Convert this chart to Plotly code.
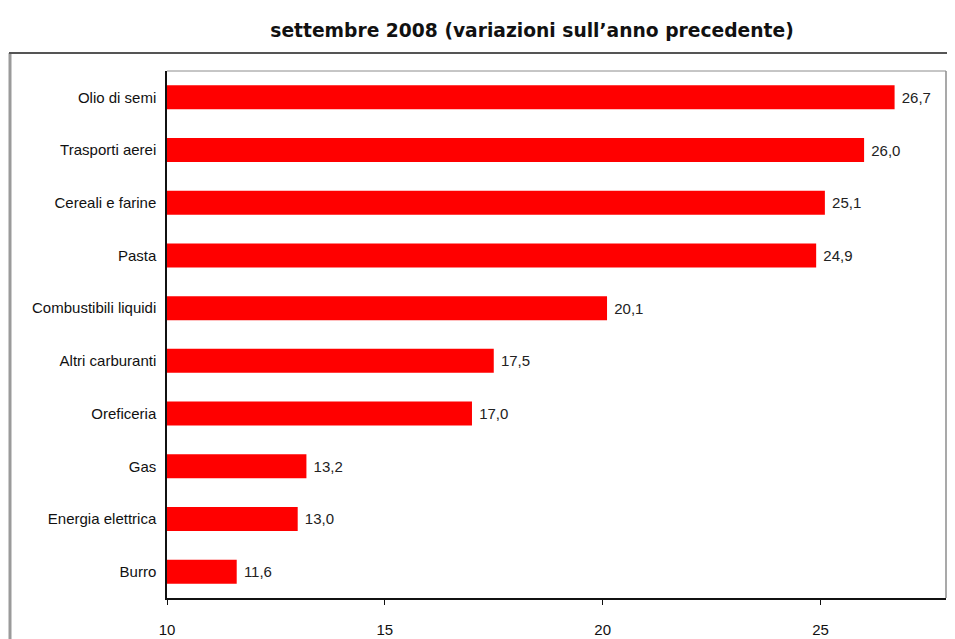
import plotly.graph_objects as go

categories = ["Olio di semi", "Trasporti aerei", "Cereali e farine", "Pasta",
              "Combustibili liquidi", "Altri carburanti", "Oreficeria", "Gas",
              "Energia elettrica", "Burro"]
values = [26.7, 26.0, 25.1, 24.9, 20.1, 17.5, 17.0, 13.2, 13.0, 11.6]
x_ticks = [10, 15, 20, 25]
axis_min, axis_max = 10, 27.88
title_text = "settembre 2008 (variazioni sull’anno precedente)"

# the page has an 8px body margin; work in figure coordinates (screen - 8)
OFF = 8
W, H = 955 - OFF, 639 - OFF
L, T = 167 - OFF, 71 - OFF
R = W - (946 - OFF)
B = H - (598 - OFF)

fig = go.Figure(go.Bar(
    y=categories,
    x=[v - axis_min for v in values],
    base=axis_min,
    customdata=values,
    orientation="h",
    marker=dict(color="#ff0000", line=dict(width=0)),
    texttemplate=" %{customdata:.1f}",
    textposition="outside",
    textfont=dict(family="Liberation Sans, Arial", size=15, color="#222222"),
    cliponaxis=False,
))

pw = W - L - R
ph = H - T - B

def px_x(p):
    return (p - OFF - L) / pw

def px_y(p):
    return (H - B - (p - OFF)) / ph

shapes = [
    # outer chart frame (left and top)
    dict(type="line", xref="paper", yref="paper", x0=px_x(10), x1=px_x(10),
         y0=px_y(53), y1=px_y(660), line=dict(color="#9a9a9a", width=3)),
    dict(type="line", xref="paper", yref="paper", x0=px_x(9), x1=px_x(960),
         y0=px_y(53), y1=px_y(53), line=dict(color="#555555", width=2)),
    # inner plot top & right borders
    dict(type="line", xref="paper", yref="paper", x0=0, x1=1, y0=1, y1=1,
         line=dict(color="#8c8c8c", width=1)),
    dict(type="line", xref="paper", yref="paper", x0=1, x1=1, y0=0, y1=1,
         line=dict(color="#8c8c8c", width=1.5)),
]

fig.update_layout(
    width=W, height=H,
    margin=dict(l=L, r=R, t=T, b=B, pad=0, autoexpand=False),
    paper_bgcolor="white",
    plot_bgcolor="white",
    separators=",.",
    showlegend=False,
    bargap=0.545,
    title=dict(text="<b>" + title_text + "</b>", x=(532 - OFF) / W, xanchor="center",
               y=1 - (30 - OFF) / H, yanchor="middle",
               font=dict(family="DejaVu Sans, Verdana", size=18.7, color="#111111")),
    shapes=shapes,
    xaxis=dict(
        range=[axis_min, axis_max],
        tickvals=x_ticks,
        showgrid=False, zeroline=False,
        showline=True, linecolor="#111111", linewidth=1.5,
        ticks="outside", ticklen=5, tickcolor="#111111",
        ticklabelstandoff=12,
        tickfont=dict(family="Liberation Sans, Arial", size=15, color="#111111"),
        automargin=False,
        fixedrange=True,
    ),
    yaxis=dict(
        autorange="reversed",
        showgrid=False, zeroline=False,
        showline=True, linecolor="#111111", linewidth=1.5,
        ticks="", ticklabelstandoff=6,
        tickfont=dict(family="Liberation Sans, Arial", size=15, color="#111111"),
        automargin=False,
        fixedrange=True,
    ),
)

fig.write_html("out.html")
